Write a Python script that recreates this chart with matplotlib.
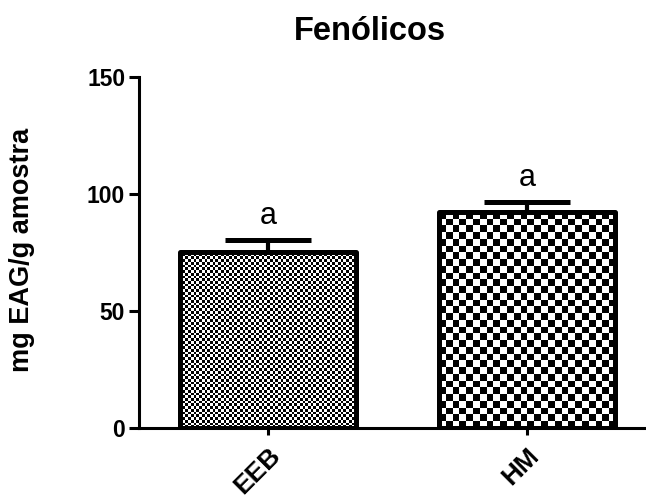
import numpy as np
import matplotlib
matplotlib.use("Agg")
import matplotlib.pyplot as plt

plt.rcParams["font.family"] = ["Liberation Sans", "DejaVu Sans"]

# data
groups = ["EEB", "HM"]
means = [75.3, 92.1]
errors = [5.0, 4.3]
letters = ["a", "a"]
yticks = [0, 50, 100, 150]

# checker cell size in pixels for each bar (fine / coarse)
CELL_PX = [2.7, 6.7]

fig = plt.figure(figsize=(6.46, 4.98), dpi=100)
ax = fig.add_axes([0.2152, 0.1406, 0.785, 0.7048])

x = np.arange(len(groups))
ax.set_xlim(-0.498, 1.46)
ax.set_ylim(0, 150)

bars = ax.bar(x, means, width=0.68, facecolor="none", edgecolor="black",
              linewidth=3.6, joinstyle="round", zorder=3)
ax.errorbar(x, means, yerr=[np.zeros(len(means)), errors], fmt="none",
            ecolor="black", elinewidth=3.0, capsize=31, capthick=3.6, zorder=2)

# checkerboard fill clipped to each bar
fig.canvas.draw()
for bar, cell in zip(bars, CELL_PX):
    x0, y0 = bar.get_x(), 0
    x1, y1 = bar.get_x() + bar.get_width(), bar.get_height()
    (px0, py0), (px1, py1) = ax.transData.transform([(x0, y0), (x1, y1)])
    nx = int(round((px1 - px0) / cell))
    ny = int(round((py1 - py0) / cell))
    ii, jj = np.indices((ny, nx))
    img = ((ii + jj) % 2).astype(float)
    im = ax.imshow(img, cmap="gray", extent=[x0, x1, y0, y1], aspect="auto",
                   interpolation="nearest", zorder=1, vmin=0, vmax=1)
    im.set_clip_path(bar)

for xi, m, e, lab in zip(x, means, errors, letters):
    ax.text(xi, m + e + 7, lab, ha="center", va="baseline", fontsize=22)

ax.set_yticks(yticks)
ax.set_xticks(x)
ax.set_xticklabels(groups, rotation=45, ha="right", rotation_mode="anchor",
                   fontsize=19, fontweight="bold")
ax.tick_params(axis="y", labelsize=16.5, width=2.2, length=7, pad=3)
ax.tick_params(axis="x", width=2.2, length=5, pad=6)
for lab in ax.get_yticklabels():
    lab.set_fontweight("bold")

for side in ["top", "right"]:
    ax.spines[side].set_visible(False)
for side in ["left", "bottom"]:
    ax.spines[side].set_linewidth(2.2)

fig.text(370 / 646, 1 - 31 / 498, "Fenólicos", ha="center", va="center",
         fontsize=23.5, fontweight="bold")
fig.text(22 / 646, 1 - 250 / 498, "mg EAG/g amostra", rotation=90,
         ha="center", va="center", fontsize=19.5, fontweight="bold")

fig.savefig("out.png", dpi=100)
